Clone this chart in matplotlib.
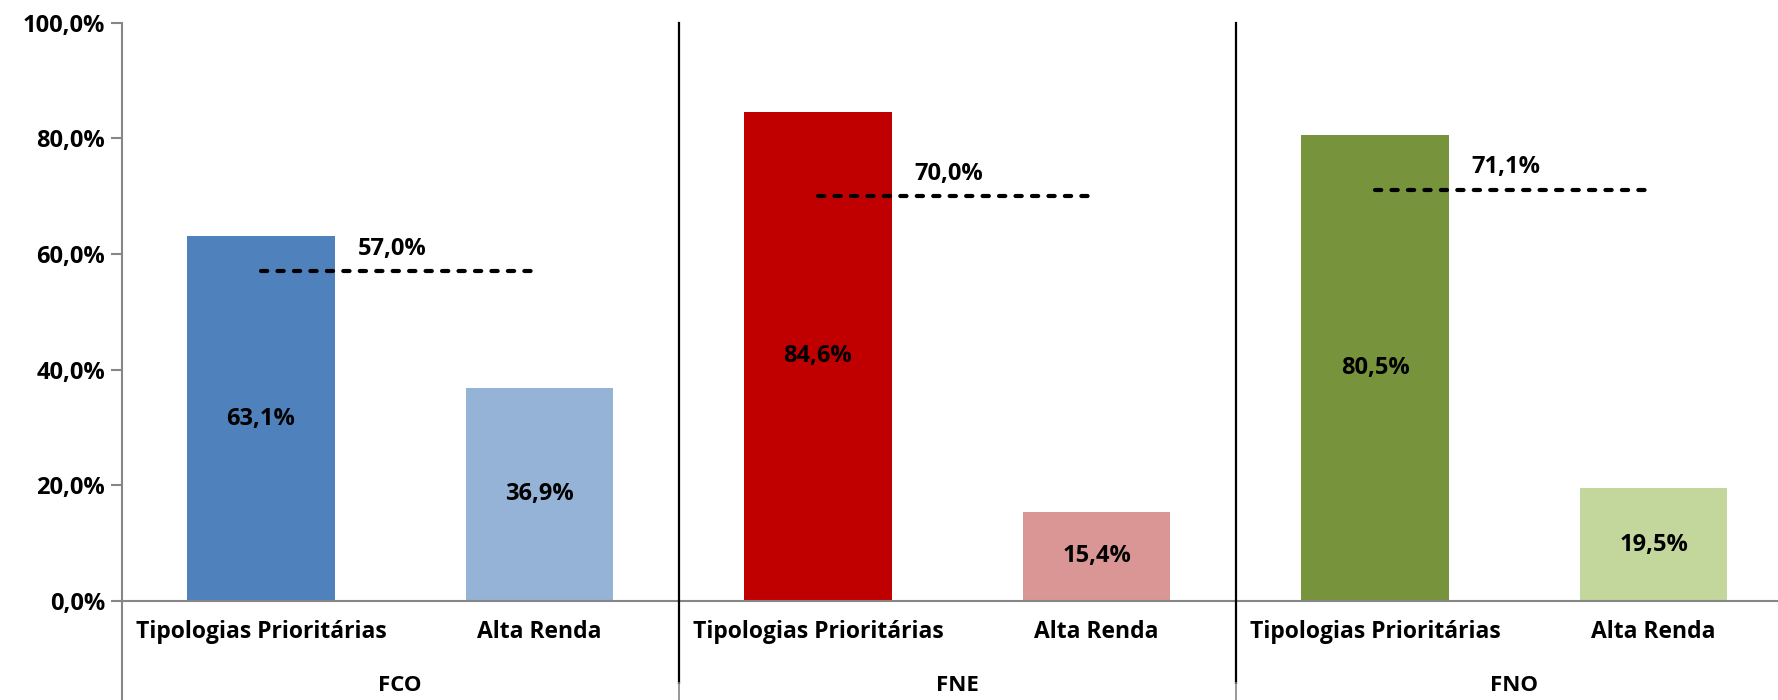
import matplotlib
matplotlib.use("Agg")
import matplotlib.pyplot as plt
import numpy as np

plt.rcParams['font.family'] = ['Open Sans', 'DejaVu Sans']

groups = ["FCO", "FNE", "FNO"]
categories = ["Tipologias Prioritárias", "Alta Renda"]
tipologias = [63.1, 84.6, 80.5]
alta_renda = [36.9, 15.4, 19.5]
meta = [57.0, 70.0, 71.1]

cores_tip = ["#4F81BD", "#C00000", "#77933C"]
cores_alta = ["#95B3D7", "#D99694", "#C3D69B"]


def fmt(v):
    return ("%.1f%%" % v).replace(".", ",")


fig = plt.figure(figsize=(17.78, 7), dpi=100)
# a area do grafico passa um pouco da borda direita, como no original
ax = fig.add_axes([0.0684, 0.1414, 0.94, 0.8262])

axis_gray = "#868686"

for i, g in enumerate(groups):
    x0 = 2 * i
    x1 = 2 * i + 1
    ax.bar(x0, tipologias[i], width=0.53, color=cores_tip[i], zorder=2)
    ax.bar(x1, alta_renda[i], width=0.53, color=cores_alta[i], zorder=2)
    ax.text(x0, tipologias[i] / 2, fmt(tipologias[i]), ha="center", va="center",
            fontsize=17, fontweight="bold", zorder=4)
    ax.text(x1, alta_renda[i] / 2, fmt(alta_renda[i]), ha="center", va="center",
            fontsize=17, fontweight="bold", zorder=4)
    # linha de referencia tracejada
    ax.plot([x0, x1], [meta[i], meta[i]], color="black", lw=3,
            dashes=(1.5, 2.45), dash_capstyle="round", zorder=3)
    ax.text((x0 + x1) / 2 - 0.03, meta[i] + 1.8, fmt(meta[i]), ha="center",
            va="bottom", fontsize=17, fontweight="bold", zorder=4)
    # nome do grupo
    ax.text(x0 + 0.5, -0.146, g, transform=ax.get_xaxis_transform(),
            ha="center", va="center", fontsize=16, fontweight="bold")

# separadores entre grupos
for xs in [1.5, 3.5]:
    ax.plot([xs, xs], [-0.142, 1.0], color="black", lw=1.6,
            transform=ax.get_xaxis_transform(), clip_on=False, zorder=5)
    ax.plot([xs, xs], [-0.2, -0.142], color=axis_gray, lw=1.2,
            transform=ax.get_xaxis_transform(), clip_on=False, zorder=5)

# eixo y estendido para baixo
ax.plot([-0.5, -0.5], [-0.2, 0], color=axis_gray, lw=1.5,
        transform=ax.get_xaxis_transform(), clip_on=False)

ax.set_xlim(-0.5, 5.5)
ax.set_ylim(0, 100)
ax.set_yticks(np.arange(0, 101, 20))
ax.set_yticklabels([fmt(v) for v in np.arange(0, 101, 20)], fontsize=17,
                   fontweight="bold")
ax.set_xticks(range(6))
ax.set_xticklabels(categories * 3, fontsize=16.5, fontweight="bold")
ax.tick_params(axis="x", length=0, pad=14)
ax.tick_params(axis="y", length=8, width=1.5, color=axis_gray, pad=4)

for s in ["top", "right"]:
    ax.spines[s].set_visible(False)
for s in ["left", "bottom"]:
    ax.spines[s].set_color(axis_gray)
    ax.spines[s].set_linewidth(1.5)

fig.savefig("out.png", dpi=100)
